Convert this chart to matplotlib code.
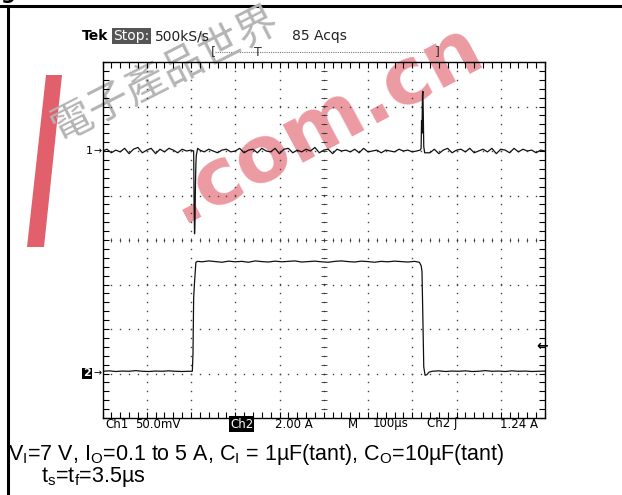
import numpy as np
import matplotlib
matplotlib.use('Agg')
import matplotlib.pyplot as plt
from matplotlib.ticker import MultipleLocator
from matplotlib.patches import Polygon

W, H = 622, 495

# Ch1 (mV), 50 mV/div, samples every 10 us before the dip, between dip and spike, after spike
ch1_pre_t = list(range(0, 201, 10))
ch1_pre_v = [0, 2, -2, 1, -1, 3, -3, 2, 4, -2, 1, 3, -3, 2, -1, 3, 1, -2, 2, 0, 1]
ch1_dip_t = [206, 207, 208, 209, 210, 211, 212, 215]
ch1_dip_v = [0, -60, -93, -80, -40, -15, -5, 3]
ch1_mid_t = list(range(220, 711, 10))
ch1_mid_v = [1, -1, 2, 0, -2, 1, 2, -1, 0, 3, -2, 1, 2, -2, 3, 0, -1, 3, -3, 2,
             3, -2, 1, -1, 2, 0, 4, -2, 1, 2, -3, 2, 0, 1, -1, 2, -2, 3, -1, 0,
             1, -2, 1, 0, -1, 2, 0, 1, -1, 0]
ch1_spk_t = [718, 720, 721, 722, 723, 724, 725, 726, 728]
ch1_spk_v = [1, 3, 34, 20, 62, 67, 40, 5, -2]
ch1_post_t = list(range(740, 1001, 10))
ch1_post_v = [-2, 2, -3, 1, 3, -2, 1, 2, -1, 3, -2, 0, 2, -1, 3, -3, 2, 1, -2, 3,
              -1, 2, 0, 1, -2, 1, 0]

# Ch2 (A), 2 A/div
ch2_t = [0, 15, 30, 45, 60, 75, 90, 105, 120, 135, 150, 165, 180, 195, 203,
         204.5, 206, 208, 211, 215,
         225, 240, 255, 270, 285, 300, 315, 330, 345, 360, 375, 390, 405, 420, 435,
         450, 465, 480, 495, 510, 525, 540, 555, 570, 585, 600, 615, 630, 645, 660,
         675, 690, 705,
         716, 720, 722, 724, 726, 729, 733, 738,
         745, 760, 775, 790, 805, 820, 835, 850, 865, 880, 895, 910, 925, 940, 955,
         970, 985, 1000]
ch2_v = [0.10, 0.12, 0.09, 0.11, 0.10, 0.13, 0.10, 0.09, 0.11, 0.10, 0.12, 0.10, 0.09, 0.10, 0.10,
         0.9, 3.4, 4.1, 5.0, 5.04,
         5.02, 5.06, 5.03, 5.00, 5.05, 5.02, 5.04, 5.00, 5.06, 5.03, 5.01, 5.05, 5.02, 5.04, 5.06,
         5.01, 5.03, 5.05, 5.02, 5.00, 5.04, 5.06, 5.03, 5.01, 5.05, 5.03, 5.00, 5.04, 5.02, 5.05,
         5.03, 5.01, 5.04,
         5.00, 4.85, 4.6, 2.5, 0.3, -0.08, -0.05, 0.06,
         0.10, 0.12, 0.09, 0.11, 0.10, 0.12, 0.09, 0.10, 0.13, 0.10, 0.11, 0.09, 0.12, 0.10, 0.11,
         0.09, 0.10, 0.11]

ch1_offset = 2.0    # divisions
ch2_offset = -3.0
ch2_trig = 1.24


def fx(x):
    return x / W


def fy(y):
    return 1 - y / H


fig = plt.figure(figsize=(W / 100, H / 100), dpi=100)

# background layer: page frame and watermark
bg = fig.add_axes([0, 0, 1, 1])
bg.set_xlim(0, W)
bg.set_ylim(H, 0)
bg.axis('off')
bg.plot([0, W], [6, 6], color='black', lw=2.2)
bg.plot([8, 8], [6, H], color='black', lw=2.2)
bg.add_patch(Polygon([(46, 75), (62, 75), (44, 247), (27, 247)], closed=True,
                     facecolor='#e2606c', edgecolor='none'))
bg.text(324, 122, '.com.cn', fontsize=57, fontweight='bold', color='#ec9aa2',
        rotation=28, rotation_mode='anchor', ha='center', va='center')
bg.text(165, 74, '電子產品世界', fontsize=30, color='#b4b4b4',
        family=['Noto Sans CJK TC', 'DejaVu Sans'],
        rotation=27, rotation_mode='anchor', ha='center', va='center')
fig.text(0, fy(-1), 'g', fontsize=15, fontweight='bold', va='baseline')

# graticule
ax = fig.add_axes([fx(102.5), fy(418), 442.5 / W, 356 / H])
ax.patch.set_alpha(0)
ax.set_xlim(-5, 5)
ax.set_ylim(-4, 4)
for s in ax.spines.values():
    s.set_linewidth(1.0)
ax.xaxis.set_major_locator(MultipleLocator(1))
ax.yaxis.set_major_locator(MultipleLocator(1))
ax.xaxis.set_minor_locator(MultipleLocator(0.2))
ax.yaxis.set_minor_locator(MultipleLocator(0.2))
ax.tick_params(which='both', direction='in', length=4, width=0.8,
               top=True, right=True, labelbottom=False, labelleft=False)

ys = np.arange(-4, 4.01, 0.2)
xs = np.arange(-5, 5.01, 0.2)
for xv in range(-4, 5):
    ax.plot([xv] * len(ys), ys, ls='none', marker='s', ms=1.0, color='#444', mew=0)
for yv in range(-3, 4):
    ax.plot(xs, [yv] * len(xs), ls='none', marker='s', ms=1.0, color='#444', mew=0)
ax.plot([0] * len(ys), ys, ls='none', marker='_', ms=4, mew=0.6, color='#333')
ax.plot(xs, [0] * len(xs), ls='none', marker='|', ms=3.5, mew=0.6, color='#333')

# traces
ch1_t = np.array(ch1_pre_t + ch1_dip_t + ch1_mid_t + ch1_spk_t + ch1_post_t)
ch1_v = np.array(ch1_pre_v + ch1_dip_v + ch1_mid_v + ch1_spk_v + ch1_post_v)
ax.plot(ch1_t / 100 - 5, ch1_offset + ch1_v / 50, color='#111', lw=0.9)
ax.plot(np.array(ch2_t) / 100 - 5, ch2_offset + np.array(ch2_v) / 2, color='#111', lw=0.9)

# scope annotations
fs_top = 10
fig.text(fx(82), fy(36), 'Tek', fontsize=fs_top, fontweight='bold', va='center')
fig.text(fx(113), fy(36), 'Stop:', fontsize=fs_top, color='white', va='center',
         bbox=dict(facecolor='#555555', edgecolor='none', pad=1))
fig.text(fx(155), fy(36), '500kS/s', fontsize=fs_top, va='center', color='#222')
fig.text(fx(292), fy(36), '85 Acqs', fontsize=fs_top, va='center', color='#222')
bg.plot([215, 436], [52, 52], color='#777', lw=0.8, ls=(0, (1, 1)))
bg.text(213, 52, '[', fontsize=9, va='center', ha='center', color='#333')
bg.text(437, 52, ']', fontsize=9, va='center', ha='center', color='#333')
bg.text(258, 52, 'T', fontsize=9, va='center', ha='center', color='#333')

fs = 8.5
fig.text(fx(105), fy(424), 'Ch1', fontsize=fs, va='center')
fig.text(fx(135), fy(424), '50.0mV', fontsize=fs, va='center')
fig.text(fx(230), fy(424), 'Ch2', fontsize=fs, va='center', color='white',
         bbox=dict(facecolor='black', edgecolor='none', pad=0.8))
fig.text(fx(275), fy(424), '2.00 A', fontsize=fs, va='center')
fig.text(fx(348), fy(424), 'M', fontsize=fs, va='center')
fig.text(fx(373), fy(424), '100µs', fontsize=fs, va='center')
fig.text(fx(427), fy(424), 'Ch2 ʃ', fontsize=fs, va='center')
fig.text(fx(500), fy(424), '1.24 A', fontsize=fs, va='center')

# channel markers
y1 = 240 - ch1_offset * 44.5
fig.text(fx(86), fy(y1), '1', fontsize=8, va='center')
fig.text(fx(93), fy(y1), '→', fontsize=7, va='center')
y2 = 240 - ch2_offset * 44.5
fig.text(fx(83), fy(y2), '2', fontsize=8, fontweight='bold', va='center', color='white',
         bbox=dict(facecolor='black', edgecolor='none', pad=0.6))
fig.text(fx(93), fy(y2), '→', fontsize=7, va='center')
yt = 240 - (ch2_offset + ch2_trig / 2) * 44.5
fig.text(fx(548), fy(yt), '←', fontsize=10, fontweight='bold', va='center', ha='right')

# caption
cap = dict(fontsize=15.5, family='Liberation Sans', va='baseline')
fig.text(fx(8), fy(460), r'V$_\mathregular{I}$=7 V, I$_\mathregular{O}$=0.1 to 5 A, '
         r'C$_\mathregular{I}$ = 1µF(tant), C$_\mathregular{O}$=10µF(tant)', **cap)
fig.text(fx(41), fy(482), r't$_\mathregular{s}$=t$_\mathregular{f}$=3.5µs', **cap)

plt.savefig('out.png', dpi=100)
